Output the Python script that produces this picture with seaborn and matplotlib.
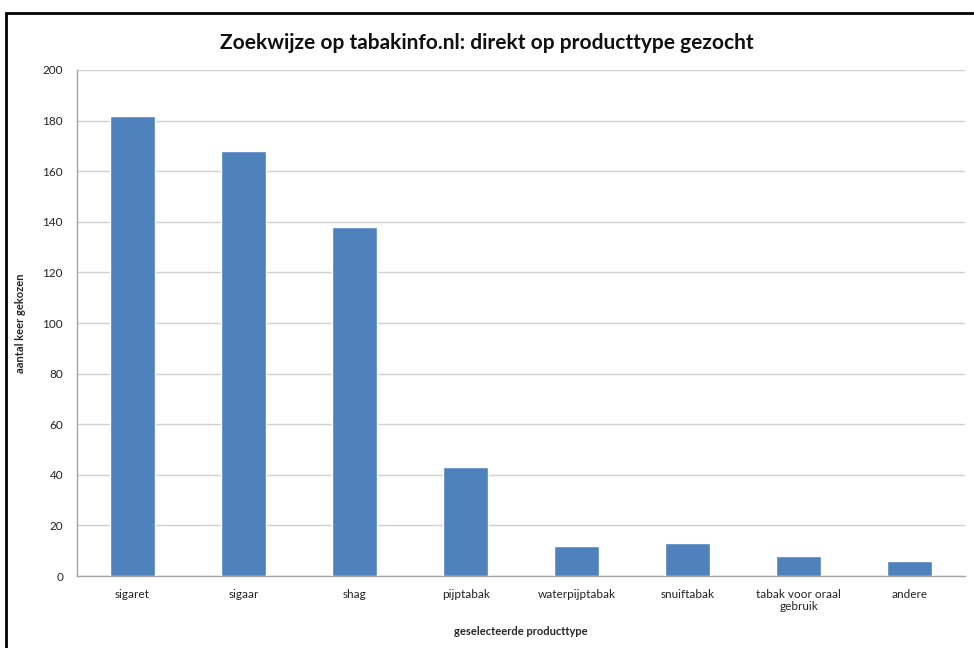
import matplotlib.pyplot as plt
import matplotlib.patches as mpatches
import pandas as pd
import seaborn as sns

# Chart data
categories = ['sigaret', 'sigaar', 'shag', 'pijptabak', 'waterpijptabak',
              'snuiftabak', 'tabak voor oraal\ngebruik', 'andere']
counts = [182, 168, 138, 43, 12, 13, 8, 6]
y_ticks = [0, 20, 40, 60, 80, 100, 120, 140, 160, 180, 200]

df = pd.DataFrame({'type': categories, 'count': counts})

sns.set_style('white')
plt.rcParams['font.family'] = ['Lato', 'DejaVu Sans']

fig = plt.figure(figsize=(9.74, 6.48), dpi=100)
ax = fig.add_axes([0.079, 0.111, 0.912, 0.781])

sns.barplot(data=df, x='type', y='count', color='#4F81BD', width=0.41,
            saturation=1, ax=ax, zorder=3)

ax.set_ylim(0, 200)
ax.set_xlim(-0.5, len(categories) - 0.5)
ax.set_yticks(y_ticks)
ax.yaxis.grid(True, color='#D0D0D0', linewidth=1, zorder=0)
ax.set_axisbelow(True)

for side in ['top', 'right']:
    ax.spines[side].set_visible(False)
for side in ['left', 'bottom']:
    ax.spines[side].set_color('#A6A6A6')
    ax.spines[side].set_linewidth(1)

ax.tick_params(axis='y', length=4, color='#A6A6A6', labelsize=8.5, pad=6)
ax.tick_params(axis='x', length=0, labelsize=8.5, pad=9)
for lbl in ax.get_xticklabels() + ax.get_yticklabels():
    lbl.set_color('#222222')

ax.set_xlabel('geselecteerde producttype', fontsize=8, fontweight='bold', labelpad=10)
ax.set_ylabel('aantal keer gekozen', fontsize=8, fontweight='bold', labelpad=12)

fig.text(0.50, 0.934, 'Zoekwijze op tabakinfo.nl: direkt op producttype gezocht',
         ha='center', va='center', fontsize=15, fontweight='bold', color='#111111')

# outer frame of the pasted chart
fig.patches.append(mpatches.Rectangle((0.006, -0.05), 1.05, 1.03,
                                      transform=fig.transFigure, fill=False,
                                      edgecolor='black', linewidth=2))

fig.savefig('out.png', dpi=100)
